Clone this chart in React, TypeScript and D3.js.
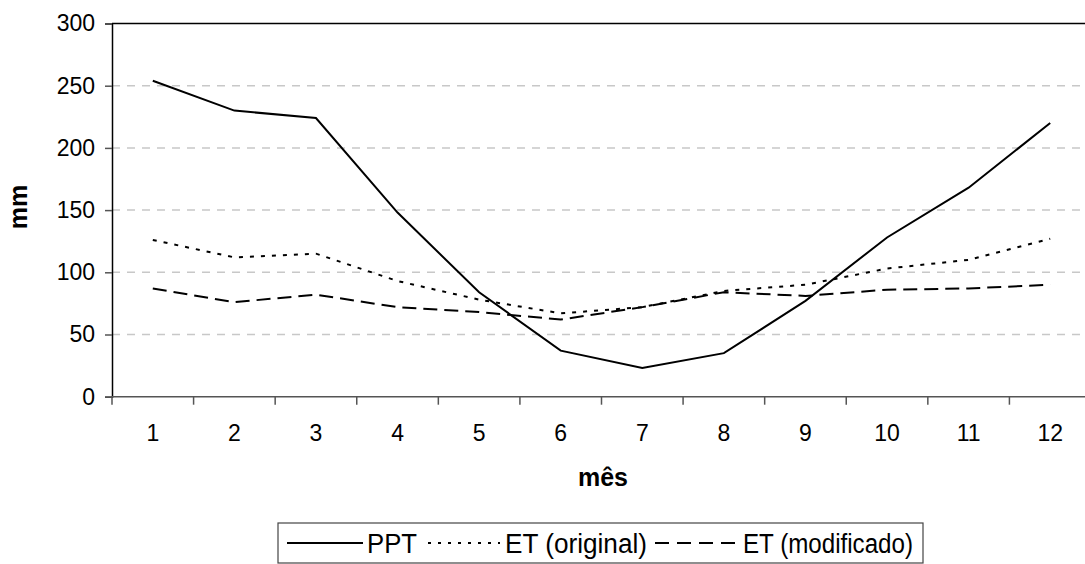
import { useEffect, useRef } from "react";
import * as d3 from "d3";

// months and series
const months = ["1", "2", "3", "4", "5", "6", "7", "8", "9", "10", "11", "12"];
const ppt = [254, 230, 224, 148, 84, 37, 23, 35, 77, 128, 168, 220];
const etOriginal = [126, 112, 115, 93, 78, 67, 72, 85, 90, 103, 110, 127];
const etModificado = [87, 76, 82, 72, 68, 62, 72, 84, 81, 86, 87, 90];
const yTicks = [0, 50, 100, 150, 200, 250, 300];

const seriesNames = ["PPT", "ET (original)", "ET (modificado)"];
const seriesDash = ["none", "4,7", "14,7"];

const width = 1085;
const height = 564;
const margin = { top: 23.5, right: -6, bottom: 167.3, left: 112 };
const font = "'Liberation Sans', Arial, sans-serif";

export default function App() {
  const ref = useRef<SVGSVGElement>(null);

  useEffect(() => {
    if (!ref.current) return;
    const svg = d3.select(ref.current);
    svg.selectAll("*").remove();

    const x = d3
      .scaleBand<string>()
      .domain(months)
      .range([margin.left, width - margin.right]);
    const y = d3
      .scaleLinear()
      .domain([0, 300])
      .range([height - margin.bottom, margin.top]);

    // grid lines
    svg
      .append("g")
      .selectAll("line")
      .data(yTicks.filter((d) => d > 0 && d < 300))
      .enter()
      .append("line")
      .attr("x1", margin.left)
      .attr("x2", width - margin.right)
      .attr("y1", (d) => y(d))
      .attr("y2", (d) => y(d))
      .attr("stroke", "#c8c8c8")
      .attr("stroke-width", 1.5)
      .attr("stroke-dasharray", "8,7");

    // top frame line
    svg
      .append("line")
      .attr("x1", margin.left)
      .attr("x2", width - margin.right)
      .attr("y1", y(300))
      .attr("y2", y(300))
      .attr("stroke", "#000")
      .attr("stroke-width", 1.5);

    // y axis
    const yAxis = svg
      .append("g")
      .attr("transform", `translate(${margin.left},0)`)
      .call(d3.axisLeft(y).tickValues(yTicks).tickSize(7).tickPadding(10));
    yAxis.select(".domain").attr("stroke", "#000").attr("stroke-width", 1.5);
    yAxis.selectAll(".tick line").attr("stroke", "#555").attr("stroke-width", 1.5);
    yAxis
      .selectAll(".tick text")
      .attr("font-family", font)
      .attr("font-size", 23)
      .attr("fill", "#000");

    // x axis: ticks at band edges, labels at band centres
    const xg = svg.append("g").attr("transform", `translate(0,${y(0)})`);
    xg.append("line")
      .attr("x1", margin.left)
      .attr("x2", width - margin.right)
      .attr("stroke", "#555")
      .attr("stroke-width", 1.5);
    xg.selectAll(".tk")
      .data(months)
      .enter()
      .append("line")
      .attr("x1", (d) => x(d) as number)
      .attr("x2", (d) => x(d) as number)
      .attr("y1", 0)
      .attr("y2", 8)
      .attr("stroke", "#555")
      .attr("stroke-width", 1.5);
    xg.selectAll(".lbl")
      .data(months)
      .enter()
      .append("text")
      .attr("x", (d) => (x(d) as number) + x.bandwidth() / 2)
      .attr("y", 44)
      .attr("text-anchor", "middle")
      .attr("font-family", font)
      .attr("font-size", 23)
      .text((d) => d);

    // axis titles
    svg
      .append("text")
      .attr("transform", `translate(27,${(y(0) + y(300)) / 2 - 3}) rotate(-90)`)
      .attr("text-anchor", "middle")
      .attr("font-family", font)
      .attr("font-size", 25)
      .attr("font-weight", "700")
      .text("mm");
    svg
      .append("text")
      .attr("x", 603)
      .attr("y", 486)
      .attr("text-anchor", "middle")
      .attr("font-family", font)
      .attr("font-size", 25)
      .attr("font-weight", "700")
      .text("mês");

    // series lines
    const line = d3
      .line<number>()
      .x((_, i) => (x(months[i]) as number) + x.bandwidth() / 2)
      .y((d) => y(d));

    [ppt, etOriginal, etModificado].forEach((s, i) => {
      svg
        .append("path")
        .datum(s)
        .attr("d", line)
        .attr("fill", "none")
        .attr("stroke", "#000")
        .attr("stroke-width", 2)
        .attr("stroke-dasharray", seriesDash[i]);
    });

    // legend
    const lg = svg.append("g");
    lg.append("rect")
      .attr("x", 278)
      .attr("y", 523)
      .attr("width", 645)
      .attr("height", 40)
      .attr("fill", "#fff")
      .attr("stroke", "#444")
      .attr("stroke-width", 1.2);
    const items = [
      { x1: 287, x2: 363, tx: 367, tw: 50 },
      { x1: 428, x2: 500, tx: 505, tw: 142 },
      { x1: 655, x2: 740, tx: 743, tw: 170 },
    ];
    items.forEach((it, i) => {
      lg.append("line")
        .attr("x1", it.x1)
        .attr("x2", it.x2)
        .attr("y1", 543)
        .attr("y2", 543)
        .attr("stroke", "#000")
        .attr("stroke-width", 2)
        .attr("stroke-dasharray", i === 1 ? "3,7" : i === 2 ? "14,8" : "none");
      lg.append("text")
        .attr("x", it.tx)
        .attr("y", 553)
        .attr("font-family", font)
        .attr("font-size", 27)
        .attr("textLength", it.tw)
        .attr("lengthAdjust", "spacingAndGlyphs")
        .text(seriesNames[i]);
    });
  }, []);

  return (
    <svg
      ref={ref}
      width={width}
      height={height}
      style={{ position: "absolute", left: 0, top: 0, background: "#fff" }}
    />
  );
}
